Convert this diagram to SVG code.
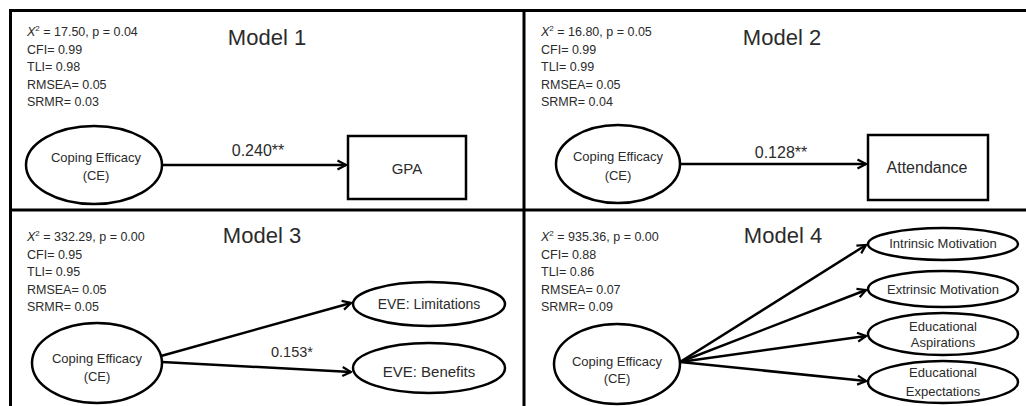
<svg xmlns="http://www.w3.org/2000/svg" width="1026" height="406" viewBox="0 0 1026 406">
<style>
text{font-family:"Liberation Sans",Arial,sans-serif;fill:#2b2b2b}
.st{font-size:12.5px}
.ti{font-size:22px;text-anchor:middle}
.lb{font-size:13px;text-anchor:middle}
.nd{fill:#fff;stroke:#000;stroke-width:2.5}
.ar{stroke:#000;stroke-width:2.5;fill:none;marker-end:url(#ah)}
.fr{stroke:#000;stroke-width:3}
.co{font-size:16px;text-anchor:middle}
.sup{font-size:8px}
</style>
<defs>
<marker id="ah" markerUnits="userSpaceOnUse" viewBox="0 0 12 12" refX="10.5" refY="6" markerWidth="12" markerHeight="12" orient="auto">
<path d="M2,1.5 L10.5,6 L2,10.5" fill="none" stroke="#000" stroke-width="2.2"/>
</marker>
</defs>
<rect width="1026" height="406" fill="#fff"/>
<g id="frame">
<line class="fr" x1="10" y1="10.5" x2="1026" y2="10.5"/>
<line class="fr" x1="10.5" y1="9" x2="10.5" y2="406"/>
<line class="fr" x1="524" y1="9" x2="524" y2="406"/>
<line class="fr" x1="10" y1="210" x2="1026" y2="210"/>
</g>
<g id="stats1">
<text class="st" x="27" y="36"><tspan font-style="italic">X</tspan><tspan class="sup" dy="-5">2</tspan><tspan dy="5"> = 17.50, p = 0.04</tspan></text>
<text class="st" x="27" y="53.5">CFI= 0.99</text>
<text class="st" x="27" y="71">TLI= 0.98</text>
<text class="st" x="27" y="88.5">RMSEA= 0.05</text>
<text class="st" x="27" y="106">SRMR= 0.03</text>
<text class="ti" x="267" y="45">Model 1</text>
</g>
<g id="stats2">
<text class="st" x="541" y="36"><tspan font-style="italic">X</tspan><tspan class="sup" dy="-5">2</tspan><tspan dy="5"> = 16.80, p = 0.05</tspan></text>
<text class="st" x="541" y="53.5">CFI= 0.99</text>
<text class="st" x="541" y="71">TLI= 0.99</text>
<text class="st" x="541" y="88.5">RMSEA= 0.05</text>
<text class="st" x="541" y="106">SRMR= 0.04</text>
<text class="ti" x="782" y="45">Model 2</text>
</g>
<g id="stats3">
<text class="st" x="27" y="241"><tspan font-style="italic">X</tspan><tspan class="sup" dy="-5">2</tspan><tspan dy="5"> = 332.29, p = 0.00</tspan></text>
<text class="st" x="27" y="258.5">CFI= 0.95</text>
<text class="st" x="27" y="276">TLI= 0.95</text>
<text class="st" x="27" y="293.5">RMSEA= 0.05</text>
<text class="st" x="27" y="311">SRMR= 0.05</text>
<text class="ti" x="262" y="243">Model 3</text>
</g>
<g id="stats4">
<text class="st" x="541" y="241"><tspan font-style="italic">X</tspan><tspan class="sup" dy="-5">2</tspan><tspan dy="5"> = 935.36, p = 0.00</tspan></text>
<text class="st" x="541" y="258.5">CFI= 0.88</text>
<text class="st" x="541" y="276">TLI= 0.86</text>
<text class="st" x="541" y="293.5">RMSEA= 0.07</text>
<text class="st" x="541" y="311">SRMR= 0.09</text>
<text class="ti" x="783" y="243">Model 4</text>
</g>
<g id="connectors">
<line class="ar" x1="162" y1="165" x2="346" y2="165"/>
<line class="ar" x1="680" y1="164" x2="866" y2="164"/>
<line class="ar" x1="161" y1="356" x2="351" y2="303"/>
<line class="ar" x1="162" y1="362" x2="351" y2="372"/>
<line class="ar" x1="680" y1="362" x2="866" y2="245"/>
<line class="ar" x1="680" y1="362" x2="866" y2="290"/>
<line class="ar" x1="680" y1="362" x2="866" y2="336"/>
<line class="ar" x1="680" y1="362" x2="866" y2="381"/>
<text class="co" x="258" y="156">0.240**</text>
<text class="co" x="781" y="158">0.128**</text>
<text class="co" x="292" y="357" style="font-size:14.5px">0.153*</text>
</g>
<g id="m1-ce">
<ellipse class="nd" cx="94" cy="165" rx="68" ry="39"/>
<text class="lb" x="96" y="162">Coping Efficacy</text>
<text class="lb" x="96" y="180">(CE)</text>
</g>
<g id="m1-gpa">
<rect class="nd" x="348" y="136" width="118" height="63"/>
<text class="lb" x="407" y="174" style="font-size:15px">GPA</text>
</g>
<g id="m2-ce">
<ellipse class="nd" cx="618" cy="164" rx="62" ry="39"/>
<text class="lb" x="618" y="161">Coping Efficacy</text>
<text class="lb" x="618" y="180">(CE)</text>
</g>
<g id="m2-att">
<rect class="nd" x="868" y="135" width="120" height="65"/>
<text class="lb" x="927" y="173" style="font-size:16px">Attendance</text>
</g>
<g id="m3-ce">
<ellipse class="nd" cx="97" cy="363" rx="65" ry="40"/>
<text class="lb" x="97" y="363">Coping Efficacy</text>
<text class="lb" x="97" y="381">(CE)</text>
</g>
<g id="m3-lim">
<ellipse class="nd" cx="429" cy="304" rx="76" ry="22"/>
<text class="lb" x="429" y="309" style="font-size:14px">EVE: Limitations</text>
</g>
<g id="m3-ben">
<ellipse class="nd" cx="429" cy="368" rx="76" ry="25"/>
<text class="lb" x="429" y="377" style="font-size:15px">EVE: Benefits</text>
</g>
<g id="m4-ce">
<ellipse class="nd" cx="617" cy="364" rx="63" ry="40"/>
<text class="lb" x="617" y="366">Coping Efficacy</text>
<text class="lb" x="617" y="383">(CE)</text>
</g>
<g id="m4-int">
<ellipse class="nd" cx="943" cy="244" rx="75" ry="16"/>
<text class="lb" x="943" y="248">Intrinsic Motivation</text>
</g>
<g id="m4-ext">
<ellipse class="nd" cx="943" cy="289" rx="75" ry="18"/>
<text class="lb" x="943" y="294">Extrinsic Motivation</text>
</g>
<g id="m4-asp">
<ellipse class="nd" cx="943" cy="334" rx="75" ry="21"/>
<text class="lb" x="943" y="331">Educational</text>
<text class="lb" x="943" y="347">Aspirations</text>
</g>
<g id="m4-exp">
<ellipse class="nd" cx="943" cy="382" rx="75" ry="21"/>
<text class="lb" x="943" y="377">Educational</text>
<text class="lb" x="943" y="396">Expectations</text>
</g>
</svg>
